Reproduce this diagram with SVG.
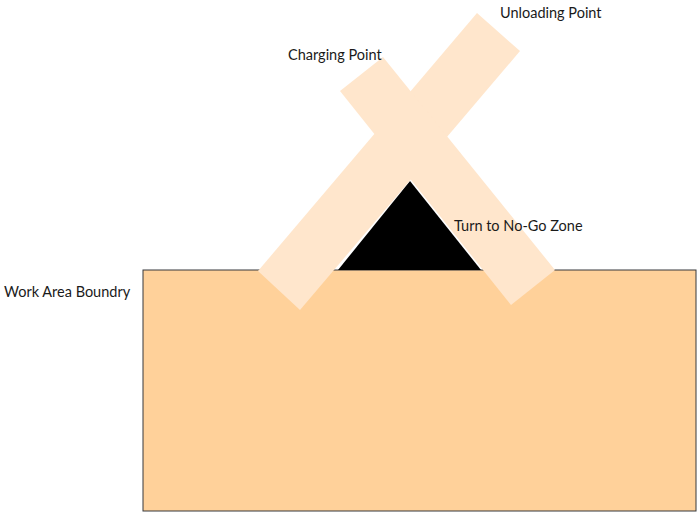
<svg xmlns="http://www.w3.org/2000/svg" width="697" height="512" viewBox="0 0 697 512">
<style>
.lbl{font-family:Lato,"Liberation Sans",sans-serif;font-size:14.5px;fill:#1a1a1a}
.strip{fill:#ffe6cc;stroke:none}
</style>
<rect x="0" y="0" width="697" height="512" fill="#ffffff"/>
<g id="work-area">
<rect x="143" y="270" width="553" height="241" fill="#ffd19a" stroke="#36393d" stroke-width="1"/>
</g>
<g id="no-go-zone">
<polygon points="410,181 338,270 481,270" fill="#000000"/>
</g>
<g id="unloading-strip">
<polygon class="strip" points="258,271 477,13 520,51 300,310"/>
</g>
<g id="charging-strip">
<polygon class="strip" points="340,91 383,57 555,270 511,305"/>
</g>
<g id="labels">
<text class="lbl" x="500" y="18">Unloading Point</text>
<text class="lbl" x="288" y="60">Charging Point</text>
<text class="lbl" x="454" y="231">Turn to No-Go Zone</text>
<text class="lbl" x="4" y="297">Work Area Boundry</text>
</g>
<g id="connectors"></g>
</svg>
